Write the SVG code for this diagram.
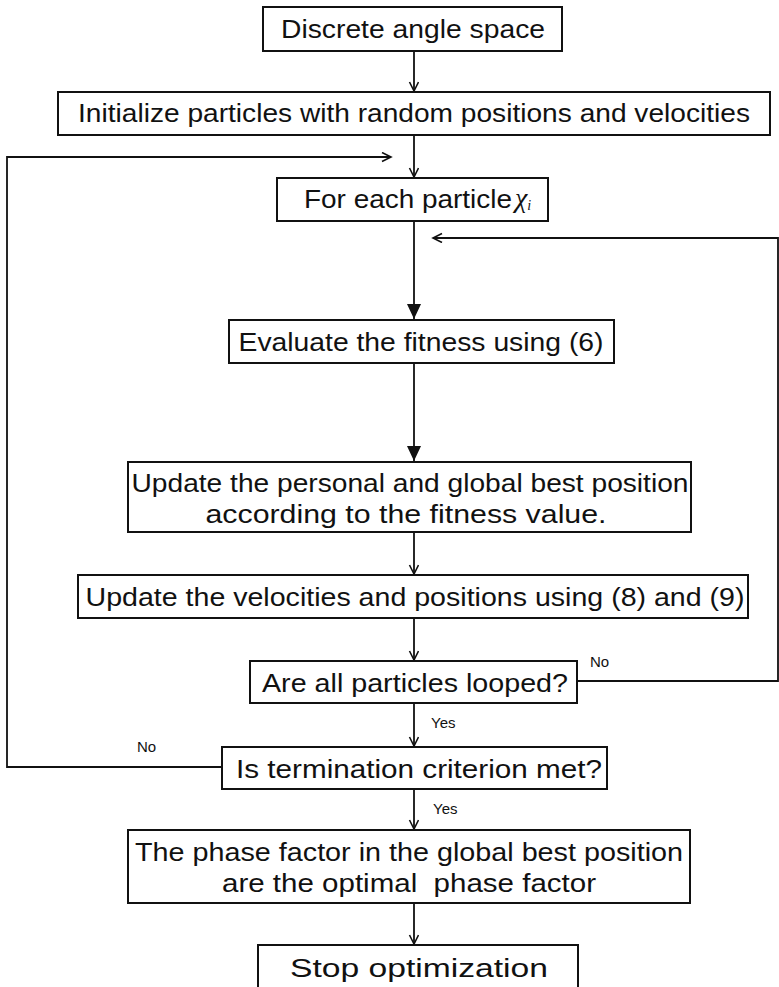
<svg xmlns="http://www.w3.org/2000/svg" width="779" height="987" viewBox="0 0 779 987">
  <style>
    .box { fill: #ffffff; stroke: #111111; stroke-width: 2; }
    .lbl { font-family: "Liberation Sans", Arial, sans-serif; font-size: 26px; fill: #111111; text-anchor: middle; white-space: pre; }
    .tag { font-family: "Liberation Sans", Arial, sans-serif; font-size: 15px; fill: #111111; }
    .wire { fill: none; stroke: #111111; stroke-width: 1.8; }
    .math { font-family: "Liberation Serif", "Times New Roman", serif; font-style: italic; }
  </style>
  <defs>
    <marker id="open" markerWidth="12" markerHeight="12" refX="10" refY="5" orient="auto" markerUnits="userSpaceOnUse">
      <path d="M1,0.5 L10,5 L1,9.5" fill="none" stroke="#111111" stroke-width="1.6"/>
    </marker>
    <marker id="solid" markerWidth="16" markerHeight="16" refX="15" refY="7" orient="auto" markerUnits="userSpaceOnUse">
      <path d="M0,0 L15,7 L0,14 Z" fill="#111111"/>
    </marker>
  </defs>

  <rect width="779" height="987" fill="#ffffff"/>

  <g id="connectors">
    <line class="wire" x1="414" y1="51" x2="414" y2="91" marker-end="url(#open)"/>
    <line class="wire" x1="414" y1="135" x2="414" y2="177" marker-end="url(#open)"/>
    <polyline class="wire" points="222,767 7,767 7,157 391,157" marker-end="url(#open)"/>
    <line class="wire" x1="414" y1="221" x2="414" y2="319" marker-end="url(#solid)"/>
    <polyline class="wire" points="577,681 778,681 778,238 433,238" marker-end="url(#open)"/>
    <line class="wire" x1="414" y1="363" x2="414" y2="461" marker-end="url(#solid)"/>
    <line class="wire" x1="414" y1="532" x2="414" y2="574" marker-end="url(#open)"/>
    <line class="wire" x1="414" y1="618" x2="414" y2="660" marker-end="url(#open)"/>
    <line class="wire" x1="414" y1="703" x2="414" y2="746" marker-end="url(#open)"/>
    <line class="wire" x1="414" y1="789" x2="414" y2="829" marker-end="url(#open)"/>
    <line class="wire" x1="414" y1="903" x2="414" y2="944" marker-end="url(#open)"/>
    <text class="tag" x="590" y="667">No</text>
    <text class="tag" x="431" y="728">Yes</text>
    <text class="tag" x="137" y="752">No</text>
    <text class="tag" x="433" y="814">Yes</text>
  </g>

  <g id="discrete-angle-space">
    <rect class="box" x="263" y="7" width="299" height="44"/>
    <text class="lbl" x="413" y="38" textLength="264" lengthAdjust="spacingAndGlyphs">Discrete angle space</text>
  </g>

  <g id="initialize">
    <rect class="box" x="58" y="92" width="712" height="43"/>
    <text class="lbl" x="414" y="122" textLength="672" lengthAdjust="spacingAndGlyphs">Initialize particles with random positions and velocities</text>
  </g>

  <g id="for-each-particle">
    <rect class="box" x="277" y="178" width="271" height="43"/>
    <text class="lbl" x="408" y="208" textLength="208" lengthAdjust="spacingAndGlyphs">For each particle</text>
    <text x="515" y="207" font-size="28" fill="#111111" class="math">χ<tspan font-size="14" dy="3">i</tspan></text>
  </g>

  <g id="evaluate-fitness">
    <rect class="box" x="229" y="320" width="385" height="43"/>
    <text class="lbl" x="421" y="351" textLength="365" lengthAdjust="spacingAndGlyphs">Evaluate the fitness using (6)</text>
  </g>

  <g id="update-best">
    <rect class="box" x="128" y="462" width="563" height="70"/>
    <text class="lbl" x="410" y="492" textLength="557" lengthAdjust="spacingAndGlyphs">Update the personal and global best position</text>
    <text class="lbl" x="406" y="523" textLength="401" lengthAdjust="spacingAndGlyphs">according to the fitness value.</text>
  </g>

  <g id="update-velocities">
    <rect class="box" x="78" y="575" width="670" height="43"/>
    <text class="lbl" x="415" y="606" textLength="659" lengthAdjust="spacingAndGlyphs">Update the velocities and positions using (8) and (9)</text>
  </g>

  <g id="all-looped">
    <rect class="box" x="250" y="661" width="327" height="42"/>
    <text class="lbl" x="415" y="692" textLength="306" lengthAdjust="spacingAndGlyphs">Are all particles looped?</text>
  </g>

  <g id="termination">
    <rect class="box" x="222" y="747" width="385" height="42"/>
    <text class="lbl" x="419" y="778" textLength="366" lengthAdjust="spacingAndGlyphs">Is termination criterion met?</text>
  </g>

  <g id="phase-factor">
    <rect class="box" x="128" y="830" width="562" height="73"/>
    <text class="lbl" x="409" y="861" textLength="548" lengthAdjust="spacingAndGlyphs">The phase factor in the global best position</text>
    <text class="lbl" x="409" y="892" textLength="374" lengthAdjust="spacingAndGlyphs">are the optimal  phase factor</text>
  </g>

  <g id="stop">
    <rect class="box" x="258" y="945" width="320" height="50"/>
    <text class="lbl" x="419" y="977" textLength="258" lengthAdjust="spacingAndGlyphs">Stop optimization</text>
  </g>
</svg>
